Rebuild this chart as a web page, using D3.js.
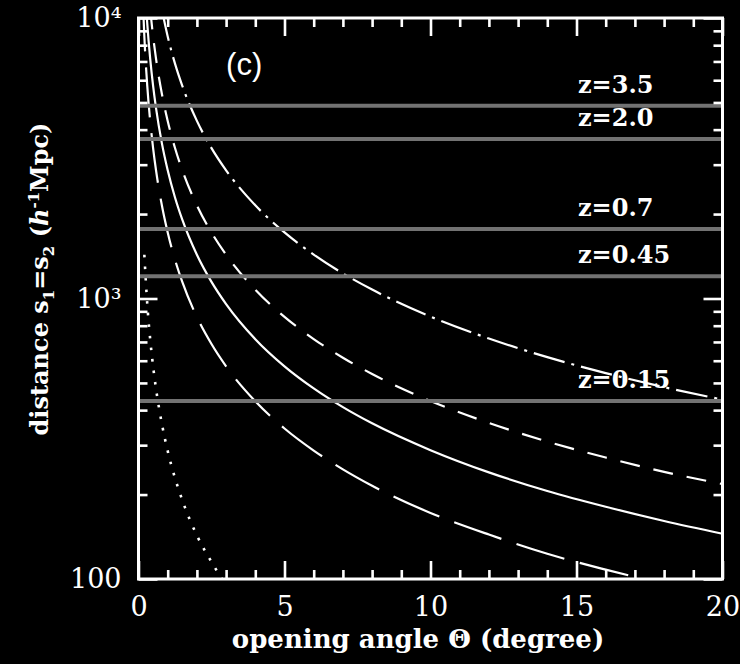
<!DOCTYPE html>
<html>
<head>
<meta charset="utf-8">
<script src="https://cdn.jsdelivr.net/npm/d3@7"></script>
<style>
  body { margin: 0; background: #000; }
  .chart svg { display: block; background: #000; }
</style>
</head>
<body>
<div class="chart"></div>
<script>
// curves: distance s (h^-1 Mpc) at a given opening angle (degree)
const angleDotted = [0.2, 0.3, 0.4, 0.5, 0.6, 0.8, 1, 1.25, 1.5, 2, 2.5, 3];
const distDotted = [1432, 955, 716, 573, 477, 358, 286, 229, 191, 143, 115, 95];

const angleLongDash = [0.15, 0.2, 0.3, 0.4, 0.5, 0.6, 0.8, 1, 1.25, 1.5, 2, 2.5, 3, 4, 5, 6, 7, 8, 10, 12, 14, 16, 18];
const distLongDash = [11460, 8594, 5730, 4297, 3438, 2865, 2149, 1719, 1375, 1146, 859, 688, 573, 430, 344, 287, 246, 215, 172, 144, 123, 108, 96];

const angleSolid = [0.25, 0.3, 0.4, 0.5, 0.6, 0.8, 1, 1.25, 1.5, 2, 2.5, 3, 4, 5, 6, 7, 8, 10, 12, 14, 16, 18, 20];
const distSolid = [11460, 9549, 7162, 5730, 4775, 3581, 2865, 2292, 1910, 1432, 1146, 955, 716, 573, 478, 410, 359, 288, 240, 206, 181, 161, 145];

const angleDashed = [0.4, 0.5, 0.6, 0.8, 1, 1.25, 1.5, 2, 2.5, 3, 4, 5, 6, 7, 8, 10, 12, 14, 16, 18, 20];
const distDashed = [10743, 8594, 7162, 5372, 4297, 3438, 2865, 2149, 1719, 1433, 1075, 860, 717, 615, 538, 431, 360, 309, 271, 241, 218];

const angleDashDot = [0.8, 1, 1.25, 1.5, 2, 2.5, 3, 4, 5, 6, 7, 8, 10, 12, 14, 16, 18, 20];
const distDashDot = [10743, 8594, 6876, 5730, 4297, 3438, 2865, 2149, 1720, 1434, 1229, 1076, 862, 720, 618, 542, 483, 436];

// redshift reference lines
const zLabels = ['z=3.5', 'z=2.0', 'z=0.7', 'z=0.45', 'z=0.15'];
const zDist = [4870, 3700, 1770, 1200, 431];

// ticks
const xMajor = [0, 5, 10, 15, 20];
const xMinor = d3.range(1, 20).filter(v => v % 5 !== 0);
const yMajor = [100, 1000, 10000];
const yMajorLabels = ['100', '10³', '10⁴'];
const yMinor = [200, 300, 400, 500, 600, 700, 800, 900, 2000, 3000, 4000, 5000, 6000, 7000, 8000, 9000];

const curves = [
    { angle: angleDotted, dist: distDotted, dash: '2.6,9', w: 2.6 },
    { angle: angleLongDash, dist: distLongDash, dash: '50,16', w: 2.2 },
    { angle: angleSolid, dist: distSolid, dash: null, w: 2.2 },
    { angle: angleDashed, dist: distDashed, dash: '20,14', w: 2.2 },
    { angle: angleDashDot, dist: distDashDot, dash: '32,7,3,7', w: 2.2 }
];

const margin = { top: 18, left: 138.5, bottom: 85, right: 17.5 };
const width = 740 - margin.left - margin.right;
const height = 664 - margin.top - margin.bottom;

const svg = d3.select('.chart')
    .append('svg')
    .attr('width', 740)
    .attr('height', 664)
    .append('g')
    .attr('transform', `translate(${margin.left}, ${margin.top})`);

// scales
const xScale = d3.scaleLinear().domain([0, 20]).range([0, width]);
const yScale = d3.scaleLog().domain([100, 10000]).range([height, 0]);

svg.append('clipPath').attr('id', 'plot-clip')
    .append('rect').attr('width', width).attr('height', height);

// curves
const lineGen = d3.line()
    .x(d => xScale(d[0]))
    .y(d => yScale(d[1]))
    .curve(d3.curveMonotoneX);

svg.append('g')
    .attr('clip-path', 'url(#plot-clip)')
    .selectAll('.curve')
    .data(curves)
    .enter()
    .append('path')
    .attr('class', 'curve')
    .attr('d', c => lineGen(c.angle.map((a, i) => [a, c.dist[i]])))
    .style('fill', 'none')
    .style('stroke', '#fff')
    .style('stroke-width', c => c.w)
    .style('stroke-dasharray', c => c.dash);

// redshift lines
const zGroup = svg.append('g').attr('class', 'z-lines');
zGroup.selectAll('line')
    .data(zDist)
    .enter()
    .append('line')
    .attr('x1', 0)
    .attr('x2', width)
    .attr('y1', d => yScale(d))
    .attr('y2', d => yScale(d))
    .style('stroke', '#727272')
    .style('stroke-width', 4);

zGroup.selectAll('text')
    .data(zDist)
    .enter()
    .append('text')
    .attr('x', xScale(15.05))
    .attr('y', d => yScale(d) - 13)
    .text((d, i) => zLabels[i])
    .style('fill', '#fff')
    .style('font-family', 'DejaVu Serif')
    .style('font-weight', 'bold')
    .style('font-size', '24px');

// axes (ticks drawn inside the frame)
const styleAxis = (g) => {
    g.select('.domain').remove();
    g.selectAll('.tick line').style('stroke', '#fff').style('stroke-width', 2.6);
    g.selectAll('.tick text')
        .style('fill', '#fff')
        .style('font-family', 'DejaVu Serif')
        .style('font-size', '27px');
};

svg.append('g').attr('transform', `translate(0, ${height})`)
    .call(d3.axisBottom(xScale).tickValues(xMajor).tickSize(-18).tickPadding(18).tickFormat(d3.format('d')))
    .call(styleAxis);
svg.append('g').attr('transform', `translate(0, ${height})`)
    .call(d3.axisBottom(xScale).tickValues(xMinor).tickSize(-9).tickFormat(''))
    .call(styleAxis);
svg.append('g')
    .call(d3.axisTop(xScale).tickValues(xMajor).tickSize(-18).tickFormat(''))
    .call(styleAxis);
svg.append('g')
    .call(d3.axisTop(xScale).tickValues(xMinor).tickSize(-9).tickFormat(''))
    .call(styleAxis);

svg.append('g')
    .call(d3.axisLeft(yScale).tickValues(yMajor).tickSize(-19).tickPadding(17)
        .tickFormat((d, i) => yMajorLabels[i]))
    .call(styleAxis);
svg.append('g')
    .call(d3.axisLeft(yScale).tickValues(yMinor).tickSize(-9).tickFormat(''))
    .call(styleAxis);
svg.append('g').attr('transform', `translate(${width}, 0)`)
    .call(d3.axisRight(yScale).tickValues(yMajor).tickSize(-19).tickFormat(''))
    .call(styleAxis);
svg.append('g').attr('transform', `translate(${width}, 0)`)
    .call(d3.axisRight(yScale).tickValues(yMinor).tickSize(-9).tickFormat(''))
    .call(styleAxis);

// frame
svg.append('rect')
    .attr('width', width)
    .attr('height', height)
    .style('fill', 'none')
    .style('stroke', '#fff')
    .style('stroke-width', 3);

// panel tag
svg.append('text')
    .attr('x', xScale(3.0))
    .attr('y', 57)
    .text('(c)')
    .style('fill', '#fff')
    .style('font-family', 'Liberation Sans')
    .style('font-size', '31px');

// axis titles
svg.append('text')
    .attr('x', 418 - margin.left)
    .attr('y', 648 - margin.top)
    .attr('text-anchor', 'middle')
    .text('opening angle Θ (degree)')
    .style('fill', '#fff')
    .style('font-family', 'DejaVu Serif')
    .style('font-weight', 'bold')
    .style('font-size', '26px');

const yTitle = svg.append('text')
    .attr('transform', `translate(${48 - margin.left}, ${279 - margin.top}) rotate(-90)`)
    .attr('text-anchor', 'middle')
    .style('fill', '#fff')
    .style('font-family', 'DejaVu Serif')
    .style('font-weight', 'bold')
    .style('font-size', '24px');
yTitle.append('tspan').text('distance s');
yTitle.append('tspan').attr('dy', 6).style('font-size', '15px').text('1');
yTitle.append('tspan').attr('dy', -6).text('=s');
yTitle.append('tspan').attr('dy', 6).style('font-size', '15px').text('2');
yTitle.append('tspan').attr('dy', -6).text(' (');
yTitle.append('tspan').style('font-style', 'italic').text('h');
yTitle.append('tspan').attr('dy', -9).style('font-size', '15px').text('-1');
yTitle.append('tspan').attr('dy', 9).text('Mpc)');
</script>
</body>
</html>
